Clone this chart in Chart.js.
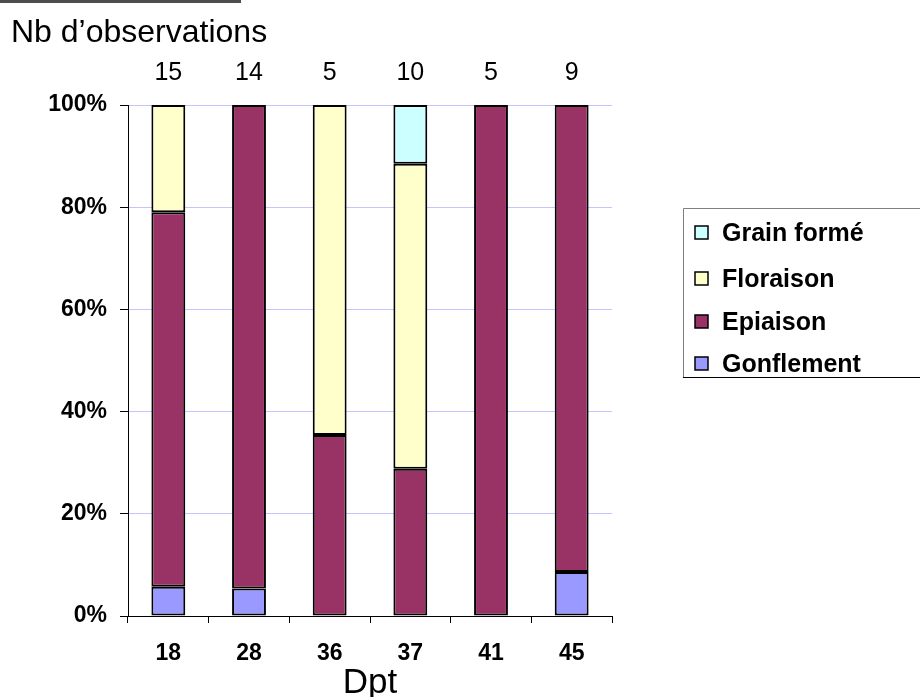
<!DOCTYPE html>
<html>
<head>
<meta charset="utf-8">
<script src="https://cdn.jsdelivr.net/npm/chart.js@4.4.0/dist/chart.umd.min.js"></script>
<style>
  html, body { margin: 0; padding: 0; background: #ffffff; }
  #wrap { position: relative; width: 920px; height: 697px; }
</style>
</head>
<body>
<div id="wrap"><canvas id="c" width="920" height="697"></canvas></div>
<script>
const categories = ['18', '28', '36', '37', '41', '45'];
const counts = [15, 14, 5, 10, 5, 9];
const gonflement = [5.7, 5.4, null, null, null, 8.6];
const epiaison = [73.3, 94.6, 35.4, 28.8, 100, 91.4];
const floraison = [21.0, null, 64.6, 59.7, null, null];
const grainForme = [null, null, null, 11.5, null, null];
const yTicks = [0, 20, 40, 60, 80, 100];

const FONT = "'Liberation Sans', Arial, sans-serif";

const overlay = {
  id: 'overlay',
  afterDraw(chart) {
    const ctx = chart.ctx;
    const xs = chart.scales.x;
    const area = chart.chartArea;
    ctx.save();
    // top dark bar
    ctx.fillStyle = '#4d4d4d';
    ctx.fillRect(0, 0, 241, 3);
    // title
    ctx.fillStyle = '#000';
    ctx.font = '32px ' + FONT;
    ctx.textAlign = 'left';
    ctx.textBaseline = 'middle';
    ctx.fillText('Nb d\u2019observations', 11, 33);
    // counts
    ctx.font = '25px ' + FONT;
    ctx.textAlign = 'center';
    counts.forEach((c, i) => {
      ctx.fillText(String(c), xs.getPixelForValue(i), 73);
    });
    // axis title
    ctx.font = '35px ' + FONT;
    ctx.fillText('Dpt', (area.left + area.right) / 2, 683);
    // legend
    const lx = 683, ly = 208, lw = 240, lh = 170;
    ctx.fillStyle = '#fff';
    ctx.fillRect(lx, ly, lw, lh);
    ctx.lineWidth = 1;
    ctx.strokeStyle = '#808080';
    ctx.beginPath();
    ctx.moveTo(lx + 0.5, ly + lh);
    ctx.lineTo(lx + 0.5, ly + 0.5);
    ctx.lineTo(lx + lw, ly + 0.5);
    ctx.stroke();
    ctx.strokeStyle = '#000';
    ctx.beginPath();
    ctx.moveTo(lx, ly + lh - 0.5);
    ctx.lineTo(lx + lw, ly + lh - 0.5);
    ctx.stroke();
    const items = chart.data.datasets.slice().reverse();
    const ys = [233, 279, 322, 364];
    ctx.font = 'bold 25px ' + FONT;
    ctx.textAlign = 'left';
    items.forEach((ds, i) => {
      const y = ys[i];
      ctx.fillStyle = ds.backgroundColor;
      ctx.fillRect(695, y - 7, 13, 13);
      ctx.strokeStyle = '#000';
      ctx.lineWidth = 1.5;
      ctx.strokeRect(695, y - 7, 13, 13);
      ctx.fillStyle = '#000';
      ctx.fillText(ds.label, 722, y + 1);
    });
    ctx.restore();
  }
};

const common = { borderColor: '#000', borderWidth: 2, borderSkipped: false,
  barPercentage: 0.42, categoryPercentage: 1.0 };

new Chart(document.getElementById('c'), {
  type: 'bar',
  data: {
    labels: categories,
    datasets: [
      Object.assign({ label: 'Gonflement', data: gonflement, backgroundColor: '#9999ff' }, common),
      Object.assign({ label: 'Epiaison', data: epiaison, backgroundColor: '#993366' }, common),
      Object.assign({ label: 'Floraison', data: floraison, backgroundColor: '#ffffcc' }, common),
      Object.assign({ label: 'Grain form\u00e9', data: grainForme, backgroundColor: '#ccffff' }, common)
    ]
  },
  options: {
    responsive: false,
    animation: false,
    devicePixelRatio: 1,
    layout: { padding: { top: 105, right: 308, left: 0, bottom: 0 } },
    plugins: { legend: { display: false }, tooltip: { enabled: false } },
    scales: {
      x: {
        stacked: true,
        offset: true,
        afterFit(s) { s.height = 81; },
        grid: { offset: true, drawOnChartArea: false, drawTicks: true, tickLength: 7, tickColor: '#000', color: '#000' },
        border: { color: '#000', width: 1 },
        ticks: { color: '#000', font: { family: FONT, size: 23, weight: 'bold' }, padding: 17, maxRotation: 0 }
      },
      y: {
        stacked: true,
        min: 0,
        max: 100,
        afterFit(s) { s.width = 128; },
        afterBuildTicks(s) { s.ticks = yTicks.map(v => ({ value: v })); },
        grid: { color: '#c4c4ff', lineWidth: 1, tickLength: 8, tickColor: '#000' },
        border: { color: '#000', width: 1 },
        ticks: { color: '#000', font: { family: FONT, size: 23, weight: 'bold' }, padding: 13,
          callback: v => v + '%' }
      }
    }
  },
  plugins: [overlay]
});
</script>
</body>
</html>
